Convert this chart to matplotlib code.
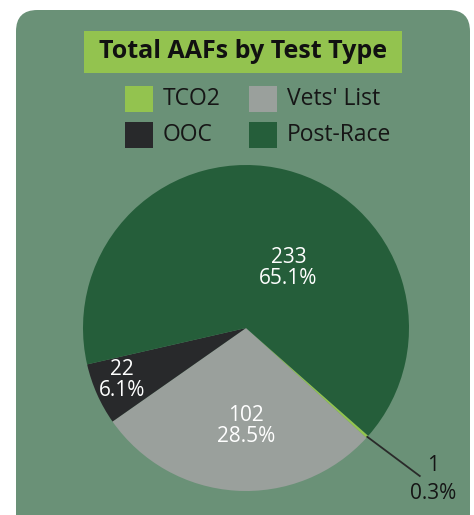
import numpy as np
from matplotlib import pyplot as plt
from matplotlib import patches

plt.rcParams['font.family'] = ['Open Sans', 'DejaVu Sans']

categories = ["TCO2", "Vets' List", "OOC", "Post-Race"]
counts = [1, 102, 22, 233]
colors = ["#93c34f", "#9aa09c", "#28292b", "#255e3a"]
legend_order = ["TCO2", "Vets' List", "OOC", "Post-Race"]

W, H = 474, 515
fig = plt.figure(figsize=(W / 100, H / 100), dpi=100)
fig.patch.set_facecolor("white")

# rounded green card
card = patches.FancyBboxPatch((16 / W, -0.05), (470 - 16) / W, (H - 10) / H + 0.05,
                              boxstyle="round,pad=0,rounding_size=0.045",
                              transform=fig.transFigure, facecolor="#6a9177",
                              edgecolor="none", mutation_aspect=W / H, zorder=-10)
fig.patches.append(card)

# title box
tbox = patches.Rectangle((84 / W, 1 - 73 / H), (402 - 84) / W, (73 - 31) / H,
                         transform=fig.transFigure, facecolor="#93c34f", edgecolor="none",
                         zorder=-5)
fig.patches.append(tbox)
fig.text(243 / W, 1 - 52 / H, "Total AAFs by Test Type", ha="center", va="center",
         fontsize=18, fontweight="bold", color="#111111")

# legend
leg_x = [125, 249]
leg_y = [99, 135]
for i, name in enumerate(legend_order):
    col = colors[categories.index(name)]
    x = leg_x[i % 2]
    y = leg_y[i // 2]
    sq = patches.Rectangle((x / W, 1 - (y + 13) / H), 28 / W, 26 / H,
                           transform=fig.transFigure, facecolor=col, edgecolor="none",
                           zorder=-5)
    fig.patches.append(sq)
    fig.text((x + 38) / W, 1 - y / H, name, ha="left", va="center",
             fontsize=16.5, color="#161616")

# pie
cx, cy, r = 246, 328, 163
ax = fig.add_axes([(cx - r) / W, (H - cy - r) / H, 2 * r / W, 2 * r / H])
total = sum(counts)
wedges, _ = ax.pie(counts, colors=colors, startangle=-41.4, counterclock=False,
                   radius=1, wedgeprops=dict(linewidth=0))
ax.set_xlim(-1, 1)
ax.set_ylim(-1, 1)
ax.set_aspect("auto")
ax.axis("off")

label_pos = {"Post-Race": (0.26, 0.37), "Vets' List": (0.0, -0.60),
             "OOC": (-0.76, -0.32), "TCO2": (1.15, -0.93)}
for name, n in zip(categories, counts):
    pct = n / total * 100
    txt = f"{n}\n{pct:.1f}%"
    x, y = label_pos[name]
    c = "#151515" if name == "TCO2" else "white"
    ls = 1.45 if name == "TCO2" else 1.0
    ax.text(x, y, txt, ha="center", va="center", fontsize=15, color=c,
            linespacing=ls, clip_on=False)

# leader line for the tiny slice
w = wedges[0]
mid = np.deg2rad((w.theta1 + w.theta2) / 2)
ax.plot([np.cos(mid), 1.066], [np.sin(mid), -0.908], color="#2a2a2a", lw=1.3,
        clip_on=False)

fig.savefig("out.png", dpi=100, facecolor="white")
